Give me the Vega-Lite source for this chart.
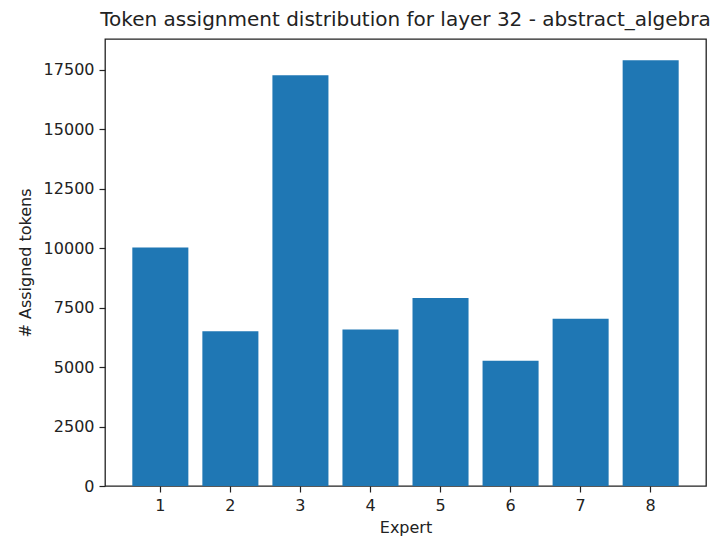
{
  "$schema": "https://vega.github.io/schema/vega-lite/v6.json",
  "width": 601,
  "height": 447,
  "autosize": {"type": "none"},
  "padding": {"left": 105, "top": 39, "right": 6, "bottom": 50},
  "background": "white",
  "config": {
    "font": "DejaVu Sans",
    "view": {"stroke": "#222", "strokeWidth": 1.3},
    "axis": {"grid": false, "domain": false, "tickColor": "#222", "tickSize": 6, "tickWidth": 1.2, "labelColor": "#222", "labelFontSize": 16, "titleFontSize": 16, "titleColor": "#222", "titleFontWeight": "normal", "labelPadding": 5}
  },
  "title": {"text": "Token assignment distribution for layer 32 - abstract_algebra", "fontSize": 20, "fontWeight": "normal", "color": "#222", "anchor": "middle", "offset": 9, "font": "DejaVu Sans"},
  "data": {"values": [
    {"expert": 1, "tokens": 10030},
    {"expert": 2, "tokens": 6510},
    {"expert": 3, "tokens": 17270},
    {"expert": 4, "tokens": 6585},
    {"expert": 5, "tokens": 7900},
    {"expert": 6, "tokens": 5270},
    {"expert": 7, "tokens": 7035},
    {"expert": 8, "tokens": 17900}
  ]},
  "mark": {"type": "bar", "color": "#1f77b4"},
  "encoding": {
    "x": {"field": "expert", "type": "ordinal", "title": "Expert",
      "scale": {"paddingInner": 0.2, "paddingOuter": 0.39},
      "axis": {"labelAngle": 0, "bandPosition": 0.5, "titlePadding": 6}},
    "y": {"field": "tokens", "type": "quantitative", "title": "# Assigned tokens",
      "scale": {"domain": [0, 18795], "nice": false},
      "axis": {"values": [0, 2500, 5000, 7500, 10000, 12500, 15000, 17500], "format": "d", "titlePadding": 10}}
  }
}
